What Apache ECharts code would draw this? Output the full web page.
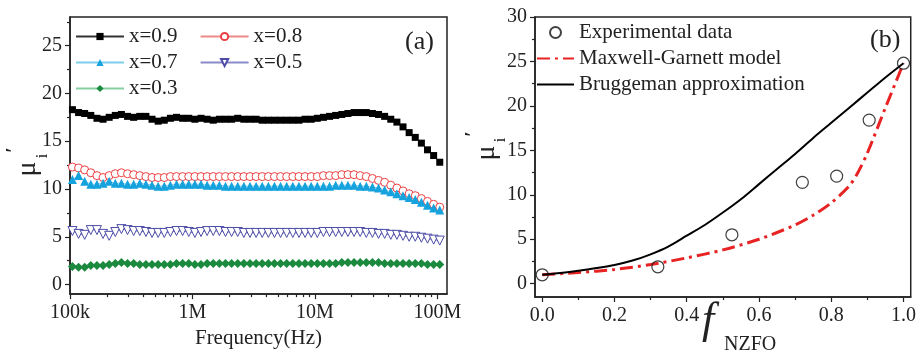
<!DOCTYPE html>
<html>
<head>
<meta charset="utf-8">
<script src="https://cdn.jsdelivr.net/npm/echarts@6/dist/echarts.min.js"></script>
<style>
  html, body { margin: 0; padding: 0; background: #fff; }
  #chart { width: 919px; height: 354px; }
</style>
</head>
<body>
<div id="chart"></div>
<script>
// panel (a): frequency sweep, 20 points per decade
const mantissas = [1.047, 1.175, 1.318, 1.479, 1.660, 1.862, 2.089, 2.344, 2.630, 2.951,
  3.311, 3.715, 4.169, 4.677, 5.248, 5.888, 6.607, 7.413, 8.318, 9.333];
const decades = [1e5, 1e6, 1e7];
const freqs = decades.flatMap(d => mantissas.map(m => m * d)).concat([1.047e8]);

const mu09 = [18.3, 18.0, 17.9, 17.7, 17.4, 17.3, 17.5, 17.7, 17.8, 17.6,
  17.5, 17.6, 17.6, 17.3, 17.1, 17.2, 17.4, 17.5, 17.4, 17.4,
  17.3, 17.4, 17.3, 17.2, 17.3, 17.3, 17.3, 17.4, 17.3, 17.3,
  17.3, 17.2, 17.2, 17.2, 17.2, 17.2, 17.2, 17.2, 17.3, 17.3,
  17.4, 17.5, 17.6, 17.7, 17.8, 17.9, 18.0, 18.0, 18.0, 17.9,
  17.8, 17.6, 17.3, 17.0, 16.5, 15.9, 15.4, 14.8, 14.1, 13.5,
  12.8];
const mu08 = [12.3, 12.2, 12.0, 11.7, 11.4, 11.2, 11.4, 11.6, 11.7, 11.6,
  11.5, 11.4, 11.3, 11.2, 11.2, 11.2, 11.3, 11.3, 11.3, 11.3,
  11.3, 11.3, 11.3, 11.3, 11.3, 11.3, 11.3, 11.3, 11.3, 11.3,
  11.3, 11.3, 11.3, 11.3, 11.3, 11.3, 11.3, 11.3, 11.3, 11.3,
  11.3, 11.4, 11.4, 11.4, 11.5, 11.5, 11.5, 11.4, 11.3, 11.1,
  10.9, 10.7, 10.4, 10.1, 9.8, 9.5, 9.3, 9.0, 8.7, 8.4,
  8.1];
const mu07 = [11.0, 11.4, 10.8, 10.5, 10.5, 10.6, 10.8, 10.6, 10.6, 10.5,
  10.5, 10.6, 10.5, 10.4, 10.3, 10.3, 10.4, 10.5, 10.5, 10.5,
  10.5, 10.5, 10.4, 10.4, 10.4, 10.3, 10.3, 10.3, 10.3, 10.3,
  10.3, 10.3, 10.3, 10.3, 10.3, 10.3, 10.3, 10.3, 10.3, 10.3,
  10.3, 10.3, 10.3, 10.4, 10.4, 10.4, 10.4, 10.3, 10.3, 10.2,
  10.1, 9.9, 9.7, 9.5, 9.3, 9.1, 8.9, 8.6, 8.3, 8.0,
  7.8];
const mu05 = [5.6, 5.3, 5.2, 5.7, 5.7, 5.3, 5.1, 5.5, 5.8, 5.7,
  5.6, 5.6, 5.5, 5.4, 5.4, 5.4, 5.5, 5.6, 5.6, 5.5,
  5.4, 5.5, 5.6, 5.6, 5.6, 5.5, 5.5, 5.5, 5.4, 5.4,
  5.4, 5.4, 5.4, 5.4, 5.4, 5.4, 5.4, 5.4, 5.4, 5.4,
  5.4, 5.5, 5.5, 5.5, 5.5, 5.5, 5.5, 5.5, 5.4, 5.4,
  5.3, 5.3, 5.2, 5.2, 5.1, 5.0, 5.0, 4.9, 4.8, 4.7,
  4.6];
const mu03 = [1.9, 1.8, 1.8, 2.0, 2.0, 2.0, 2.1, 2.2, 2.3, 2.2,
  2.2, 2.1, 2.1, 2.1, 2.1, 2.1, 2.1, 2.2, 2.2, 2.2,
  2.1, 2.1, 2.2, 2.2, 2.2, 2.2, 2.2, 2.2, 2.2, 2.2,
  2.2, 2.2, 2.2, 2.2, 2.2, 2.2, 2.2, 2.2, 2.2, 2.2,
  2.2, 2.2, 2.2, 2.2, 2.3, 2.3, 2.3, 2.3, 2.3, 2.3,
  2.3, 2.2, 2.2, 2.2, 2.2, 2.2, 2.2, 2.2, 2.1, 2.1,
  2.1];
const freqTicks = [1e5, 1e6, 1e7, 1e8];
const freqLabels = ['100k', '1M', '10M', '100M'];
const freqMinor = [2e5, 3e5, 4e5, 5e5, 6e5, 7e5, 8e5, 9e5,
  2e6, 3e6, 4e6, 5e6, 6e6, 7e6, 8e6, 9e6,
  2e7, 3e7, 4e7, 5e7, 6e7, 7e7, 8e7, 9e7];
const muTicksA = [0, 5, 10, 15, 20, 25];
const muMinorA = [2.5, 7.5, 12.5, 17.5, 22.5, 27.5];

// panel (b): volume fraction
const expF = [0, 0.32, 0.525, 0.72, 0.815, 0.905, 1.0];
const expMu = [1.0, 1.9, 5.5, 11.4, 12.1, 18.4, 24.8];
const mgF = [0, 0.1, 0.2, 0.3, 0.4, 0.5, 0.6, 0.7, 0.75, 0.8, 0.85, 0.875, 0.9, 0.95, 1.0];
const mgMu = [1.0, 1.25, 1.6, 2.15, 2.9, 3.8, 5.0, 6.6, 7.7, 9.1, 11.0, 12.6, 14.7, 19.8, 24.8];
const brF = [0, 0.05, 0.1, 0.15, 0.2, 0.25, 0.3, 0.35, 0.4, 0.45, 0.5, 0.55, 0.6, 0.65, 0.7, 0.75, 0.8, 0.85, 0.9, 0.95, 1.0];
const brMu = [1.0, 1.2, 1.45, 1.75, 2.1, 2.6, 3.3, 4.2, 5.4, 6.6, 8.0, 9.5, 11.2, 12.9, 14.6, 16.4, 18.1, 19.8, 21.5, 23.2, 24.8];
const fTicks = [0, 0.2, 0.4, 0.6, 0.8, 1.0];
const fMinor = [0.1, 0.3, 0.5, 0.7, 0.9];
const muTicksB = [0, 5, 10, 15, 20, 25, 30];
const muMinorB = [2.5, 7.5, 12.5, 17.5, 22.5, 27.5];

const font = 'Liberation Serif, Times New Roman, serif';
const ink = '#222';

function mainAxis(extra) {
  return Object.assign({
    axisLine: { show: true, onZero: false, lineStyle: { color: ink, width: 1.5 } },
    axisTick: { show: true, inside: false, length: 5, lineStyle: { color: ink, width: 1.2 } },
    axisLabel: { color: ink, fontFamily: font, fontSize: 20, margin: 8 },
    splitLine: { show: false }
  }, extra);
}
function minorAxis(extra, values) {
  return Object.assign({
    axisLine: { show: false, onZero: false },
    axisTick: { show: true, inside: false, length: 3, customValues: values, lineStyle: { color: ink, width: 1.2 } },
    axisLabel: { show: false },
    splitLine: { show: false }
  }, extra);
}

const lineSeries = (name, data, color, lineColor, symbol, size, empty, rotate) => ({
  name, type: 'line', xAxisIndex: 0, yAxisIndex: 0,
  data: freqs.map((f, i) => [f, data[i]]),
  symbol, symbolSize: size, symbolRotate: rotate || 0,
  lineStyle: { color: lineColor, width: 1 },
  itemStyle: empty ? { color: '#fff', borderColor: color, borderWidth: 1 } : { color: color, borderWidth: 0 },
  emphasis: { disabled: true }
});

const legendText = { fontFamily: font, fontSize: 21, color: ink };

const chart = echarts.init(document.getElementById('chart'));
chart.setOption({
  animation: false,
  backgroundColor: '#fff',
  grid: [
    { left: 70, right: 472, top: 17, bottom: 57, show: true, borderColor: ink, borderWidth: 1.5 },
    { left: 535, right: 7, top: 17, bottom: 57, show: true, borderColor: ink, borderWidth: 1.5 }
  ],
  xAxis: [
    mainAxis({
      type: 'log', logBase: 10, gridIndex: 0, min: 1e5, max: 1.2e8,
      axisTick: { show: true, length: 5, customValues: freqTicks, lineStyle: { color: ink, width: 1.2 } },
      axisLabel: {
        color: ink, fontFamily: font, fontSize: 20, margin: 9, customValues: freqTicks,
        formatter: v => freqLabels[Math.round(Math.log10(v)) - 5]
      },
      name: 'Frequency(Hz)', nameLocation: 'middle', nameGap: 29,
      nameTextStyle: { color: ink, fontFamily: font, fontSize: 21 }
    }),
    minorAxis({ type: 'log', logBase: 10, gridIndex: 0, min: 1e5, max: 1.2e8, position: 'bottom' }, freqMinor),
    mainAxis({
      type: 'value', gridIndex: 1, min: -0.02, max: 1.02,
      axisTick: { show: true, length: 5, customValues: fTicks, lineStyle: { color: ink, width: 1.2 } },
      axisLabel: { color: ink, fontFamily: font, fontSize: 20, margin: 9, customValues: fTicks, formatter: v => v.toFixed(1) }
    }),
    minorAxis({ type: 'value', gridIndex: 1, min: -0.02, max: 1.02, position: 'bottom' }, fMinor)
  ],
  yAxis: [
    mainAxis({
      type: 'value', gridIndex: 0, min: -1, max: 28,
      axisTick: { show: true, length: 5, customValues: muTicksA, lineStyle: { color: ink, width: 1.2 } },
      axisLabel: { color: ink, fontFamily: font, fontSize: 20, margin: 8, customValues: muTicksA }
    }),
    minorAxis({ type: 'value', gridIndex: 0, min: -1, max: 28, position: 'left' }, muMinorA),
    mainAxis({
      type: 'value', gridIndex: 1, min: -1.5, max: 30,
      axisTick: { show: true, length: 5, customValues: muTicksB, lineStyle: { color: ink, width: 1.2 } },
      axisLabel: { color: ink, fontFamily: font, fontSize: 20, margin: 8, customValues: muTicksB }
    }),
    minorAxis({ type: 'value', gridIndex: 1, min: -1.5, max: 30, position: 'left' }, muMinorB)
  ],
  legend: [
    { data: ['x=0.9', 'x=0.8'], left: 75, top: 26, padding: 0, itemGap: 22, itemWidth: 48, itemHeight: 9, textStyle: legendText },
    { data: ['x=0.7', 'x=0.5'], left: 75, top: 52, padding: 0, itemGap: 22, itemWidth: 48, itemHeight: 9, textStyle: legendText },
    { data: ['x=0.3'], left: 75, top: 78, padding: 0, itemWidth: 48, itemHeight: 9, textStyle: legendText },
    { data: ['Experimental data', 'Maxwell-Garnett model', 'Bruggeman approximation'],
      orient: 'vertical', left: 536, top: 22, padding: 0, itemGap: 5, itemWidth: 37, itemHeight: 11,
      textStyle: legendText }
  ],
  series: [
    lineSeries('x=0.9', mu09, '#000', '#333', 'rect', 7, false),
    lineSeries('x=0.8', mu08, '#ec3f42', '#f08a8a', 'circle', 8, true),
    lineSeries('x=0.7', mu07, '#16a2dd', '#7fcdee', 'triangle', 9, false),
    lineSeries('x=0.5', mu05, '#4c4ca8', '#8a8ac8', 'triangle', 9, true, 180),
    lineSeries('x=0.3', mu03, '#1c8a3e', '#86cfa0', 'diamond', 9, false),
    {
      name: 'Experimental data', type: 'scatter', xAxisIndex: 2, yAxisIndex: 2,
      data: expF.map((f, i) => [f, expMu[i]]),
      symbol: 'circle', symbolSize: 12, z: 5,
      itemStyle: { color: 'rgba(255,255,255,0)', borderColor: '#111', borderWidth: 1.2 }
    },
    {
      name: 'Maxwell-Garnett model', type: 'line', xAxisIndex: 2, yAxisIndex: 2,
      data: mgF.map((f, i) => [f, mgMu[i]]), smooth: 0.3, symbol: 'none',
      lineStyle: { color: '#e82323', width: 3, type: [13, 5, 3, 5] },
      itemStyle: { color: 'rgba(0,0,0,0)', borderWidth: 0 }
    },
    {
      name: 'Bruggeman approximation', type: 'line', xAxisIndex: 2, yAxisIndex: 2,
      data: brF.map((f, i) => [f, brMu[i]]), smooth: 0.3, symbol: 'none',
      lineStyle: { color: '#000', width: 2 },
      itemStyle: { color: 'rgba(0,0,0,0)', borderWidth: 0 }
    }
  ],
  graphic: [
    { type: 'text', left: 405, top: 29, style: { text: '(a)', font: '26px ' + font, fill: ink } },
    { type: 'text', left: 870, top: 27, style: { text: '(b)', font: '26px ' + font, fill: ink } },
    // y titles: mu with subscript i and prime, rotated
    { type: 'text', x: 28, y: 169, rotation: Math.PI / 2,
      style: { text: 'μ', font: '28px ' + font, fill: ink, align: 'center', verticalAlign: 'middle' } },
    { type: 'text', x: 43, y: 156, rotation: Math.PI / 2,
      style: { text: 'i', font: '16px ' + font, fill: ink, align: 'center', verticalAlign: 'middle' } },
    { type: 'text', x: 15, y: 150, rotation: Math.PI / 2,
      style: { text: '\u2032', font: 'bold 20px ' + font, fill: ink, align: 'center', verticalAlign: 'middle' } },
    { type: 'text', x: 487, y: 153, rotation: Math.PI / 2,
      style: { text: 'μ', font: '28px ' + font, fill: ink, align: 'center', verticalAlign: 'middle' } },
    { type: 'text', x: 501, y: 140, rotation: Math.PI / 2,
      style: { text: 'i', font: '16px ' + font, fill: ink, align: 'center', verticalAlign: 'middle' } },
    { type: 'text', x: 474, y: 134, rotation: Math.PI / 2,
      style: { text: '\u2032', font: 'bold 20px ' + font, fill: ink, align: 'center', verticalAlign: 'middle' } },
    // x title of panel (b)
    { type: 'text', left: 702, top: 299, style: { text: 'f', font: 'italic 44px ' + font, fill: ink } },
    { type: 'text', left: 724, top: 335, style: { text: 'NZFO', font: '20px ' + font, fill: ink } }
  ]
});
</script>
</body>
</html>
